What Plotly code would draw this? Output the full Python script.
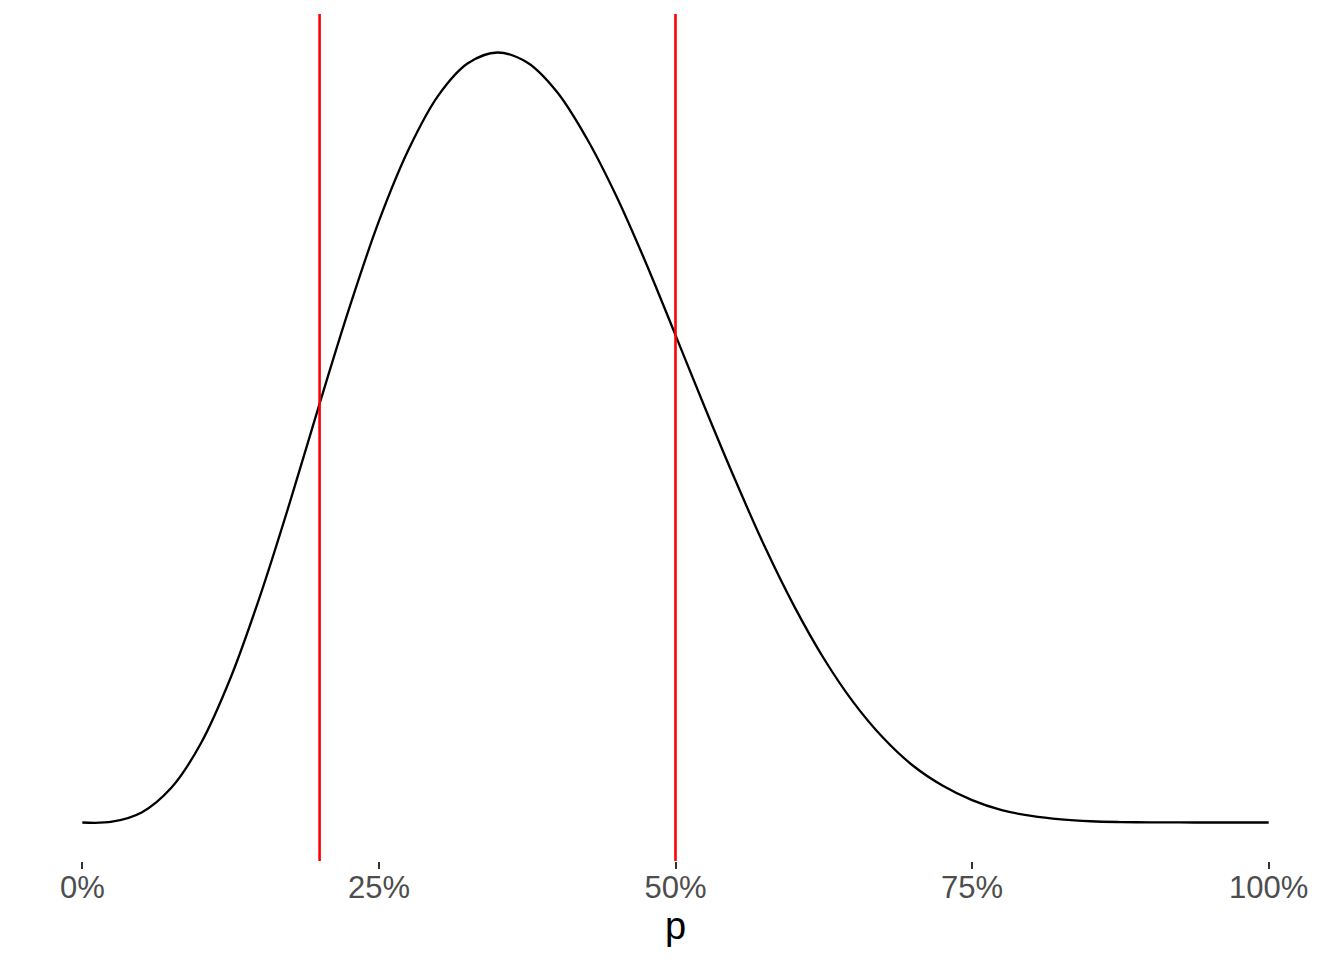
import plotly.graph_objects as go

# Curve: p and relative density height (peak = 1)
p_values = [0.000, 0.025, 0.050, 0.075, 0.100, 0.125, 0.150, 0.175, 0.200, 0.225,
            0.250, 0.275, 0.300, 0.325, 0.350, 0.375, 0.400, 0.425, 0.450, 0.475,
            0.500, 0.525, 0.550, 0.575, 0.600, 0.625, 0.650, 0.675, 0.700, 0.725,
            0.750, 0.775, 0.800, 0.825, 0.850, 0.875, 0.900, 0.925, 0.950, 0.975, 1.000]
density = [0.000, 0.001, 0.013, 0.045, 0.103, 0.188, 0.295, 0.416, 0.544, 0.668,
           0.781, 0.874, 0.944, 0.986, 1.000, 0.987, 0.949, 0.889, 0.814, 0.727,
           0.633, 0.538, 0.446, 0.359, 0.281, 0.213, 0.156, 0.110, 0.074, 0.048,
           0.029, 0.016, 0.0085, 0.004, 0.0016, 0.0006, 0.0002, 0.00005, 0.0, 0.0, 0.0]

# Vertical reference lines
ref_lines = [0.2, 0.5]

tick_vals = [0, 0.25, 0.5, 0.75, 1.0]
tick_text = ["0%", "25%", "50%", "75%", "100%"]

fig = go.Figure()
fig.add_trace(go.Scatter(x=p_values, y=density, mode="lines",
                         line=dict(color="black", width=2.3, shape="spline", smoothing=1.0),
                         showlegend=False, hoverinfo="skip"))

for xv in ref_lines:
    fig.add_vline(x=xv, line=dict(color="#FF0000", width=2.6), layer="above")

fig.update_layout(
    width=1336, height=952,
    margin=dict(l=15, r=16, t=6, b=99),
    paper_bgcolor="white", plot_bgcolor="white",
    font=dict(family="Liberation Sans, Arial, sans-serif"),
    xaxis=dict(range=[-0.05, 1.05], tickvals=tick_vals, ticktext=tick_text,
               showgrid=False, zeroline=False, showline=False,
               ticks="outside", ticklen=7, tickwidth=1.6, tickcolor="#333333",
               ticklabelstandoff=-8,
               tickfont=dict(size=31, color="#4D4D4D"),
               title=dict(text="p", font=dict(size=38, color="black"), standoff=4)),
    yaxis=dict(range=[-0.05, 1.05], showgrid=False, zeroline=False, showline=False,
               showticklabels=False, ticks=""),
)

fig.write_html("out.html")
